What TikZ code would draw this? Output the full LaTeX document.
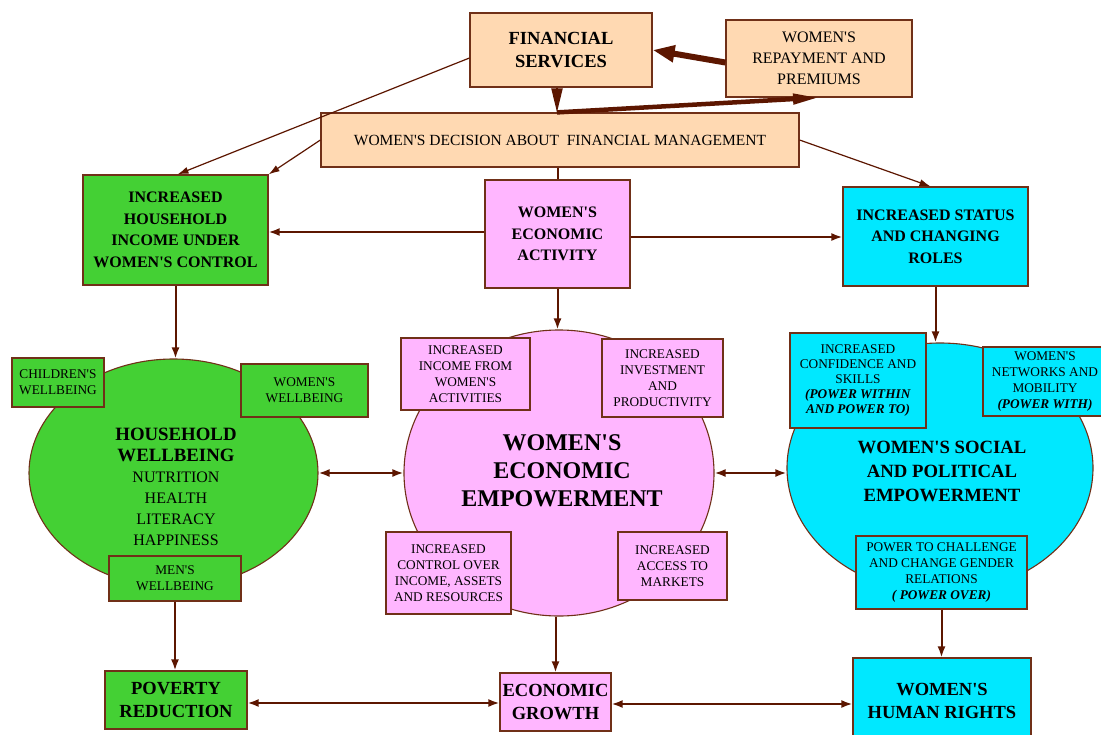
\documentclass[tikz,border=0pt]{standalone}
\usepackage{fontspec}
\setmainfont{Liberation Serif}[Ligatures=TeXOff]
\usetikzlibrary{shapes.geometric,arrows.meta,calc}
\definecolor{grn}{RGB}{68,208,52}
\definecolor{pnk}{RGB}{255,182,255}
\definecolor{cyn}{RGB}{0,232,255}
\definecolor{pch}{RGB}{255,217,178}
\definecolor{brn}{RGB}{92,22,0}
\definecolor{bord}{RGB}{112,48,24}
\newcommand\hwbig{\fontsize{18.8}{22}\selectfont\bfseries}
\newcommand\bi[1]{\textbf{\textit{#1}}}
\begin{document}
\begin{tikzpicture}[x=1pt,y=-1pt,
 bx/.style 2 args={draw=bord, line width=1.2pt, rectangle, inner sep=0pt, align=center, minimum width=#1pt, minimum height=#2pt},
 ell/.style 2 args={draw=bord, line width=1.1pt, ellipse, inner sep=0pt, minimum width=#1pt, minimum height=#2pt},
 hd/.style={font=\fontsize{16}{21.5}\selectfont\bfseries},
 big/.style={font=\fontsize{18.5}{23.5}\selectfont\bfseries},
 sm/.style={font=\fontsize{13.3}{16}\selectfont},
 md/.style={font=\fontsize{16}{21}\selectfont},
 lbl/.style={align=center, inner sep=0pt},
 arr/.style={draw=brn, line width=2pt, -{Latex[length=11pt,width=8pt]}},
 darr/.style={draw=brn, line width=2pt, {Latex[length=11pt,width=8pt]}-{Latex[length=11pt,width=8pt]}},
 tarr/.style={draw=brn, line width=1.2pt, -{Latex[length=11pt,width=7pt]}},
 plain/.style={draw=brn, line width=2pt},
]
\useasboundingbox (0,0) rectangle (1101,734);
\fill[white] (0,0) rectangle (1101,734);
\clip (0,0) rectangle (1101,734);

% top row
\node[bx={182}{74}, fill=pch, big] (fin) at (561,50) {FINANCIAL\\SERVICES};
\node[bx={186}{77}, fill=pch, md] (rep) at (819,58.5) {WOMEN'S\\REPAYMENT AND\\PREMIUMS};
\node[bx={478}{54}, fill=pch, font=\fontsize{15.5}{19}\selectfont] (dec) at (560,140) {WOMEN'S DECISION ABOUT\ \ FINANCIAL MANAGEMENT};

% second row
\node[bx={185}{110}, fill=grn, hd] (hinc) at (175.5,230) {INCREASED\\HOUSEHOLD\\INCOME UNDER\\WOMEN'S CONTROL};
\node[bx={145}{108}, fill=pnk, hd] (act) at (557.5,234) {WOMEN'S\\ECONOMIC\\ACTIVITY};
\node[bx={185}{99}, fill=cyn, hd] (stat) at (935.5,236.5) {INCREASED STATUS\\AND CHANGING\\ROLES};

% ellipses
\node[ell={289}{228}, fill=grn] (hw) at (173.5,473) {};
\node[ell={310}{286}, fill=pnk] (ee) at (559,473) {};
\node[ell={306}{250}, fill=cyn] (sp) at (940,468) {};

\node[lbl, md] (hwt) at (176,487) {{\hwbig HOUSEHOLD}\\{\hwbig WELLBEING}\\NUTRITION\\HEALTH\\LITERACY\\HAPPINESS};
\node[lbl, font=\fontsize{24}{28}\selectfont\bfseries] (eet) at (562,471) {WOMEN'S\\ECONOMIC\\EMPOWERMENT};
\node[lbl, font=\fontsize{18.7}{24}\selectfont\bfseries] (spt) at (942,471) {WOMEN'S SOCIAL\\AND POLITICAL\\EMPOWERMENT};

% household boxes
\node[bx={92}{49}, fill=grn, sm] (cw) at (58,382.5) {CHILDREN'S\\WELLBEING};
\node[bx={127}{53}, fill=grn, sm] (ww) at (304.5,390.5) {WOMEN'S\\WELLBEING};
\node[bx={132}{45}, fill=grn, sm] (mw) at (175,578.5) {MEN'S\\WELLBEING};

% economic boxes
\node[bx={129}{72}, fill=pnk, sm] (iinc) at (465.5,374) {INCREASED\\INCOME FROM\\WOMEN'S\\ACTIVITIES};
\node[bx={121}{78}, fill=pnk, sm] (iinv) at (662.5,378) {INCREASED\\INVESTMENT\\AND\\PRODUCTIVITY};
\node[bx={125}{82}, fill=pnk, sm] (ictl) at (448.5,573) {INCREASED\\CONTROL OVER\\INCOME, ASSETS\\AND RESOURCES};
\node[bx={109}{68}, fill=pnk, sm] (iacc) at (672.5,566) {INCREASED\\ACCESS TO\\MARKETS};

% social boxes
\node[bx={136}{95}, fill=cyn, font=\fontsize{13.3}{15.2}\selectfont] (icon) at (858,380.5) {INCREASED\\CONFIDENCE AND\\SKILLS\\\bi{(POWER WITHIN}\\\bi{AND POWER TO)}};
\node[bx={124}{69}, fill=cyn, sm] (inet) at (1045,381.5) {WOMEN'S\\NETWORKS AND\\MOBILITY\\\bi{(POWER WITH)}};
\node[bx={171}{73}, fill=cyn, sm] (ptc) at (941.5,572.5) {POWER TO CHALLENGE\\AND CHANGE GENDER\\RELATIONS\\\bi{( POWER OVER)}};

% bottom row
\node[bx={142}{58}, fill=grn, big] (pov) at (176,700) {POVERTY\\REDUCTION};
\node[bx={111}{58}, fill=pnk, big] (eg) at (555.5,702) {ECONOMIC\\GROWTH};
\node[bx={178}{86}, fill=cyn, big] (hr) at (942,701) {WOMEN'S\\HUMAN RIGHTS};

% connectors
\draw[draw=brn, line width=6pt, -{Triangle[length=22pt,width=16pt]}] ($(rep.west)+(0,4)$) -- (fin.east);
\draw[draw=brn, line width=2pt, -{Triangle[length=24pt,width=11pt]}] ($(fin.south)+(-4,0)$) -- ($(dec.north)+(-3,0)$);
\draw[draw=brn, line width=4.5pt, -{Triangle[length=26pt,width=10pt]}] ($(dec.north)+(-3,0)$) -- (rep.south);
\draw[tarr] ($(fin.west)+(0,8)$) -- ($(hinc.north)+(2,0)$);
\draw[tarr] (dec.west) -- (hinc.north east);
\draw[tarr] (dec.east) -- ($(stat.north)+(-5,0)$);
\draw[plain] (act.north |- dec.south) -- (act.north);
\draw[arr] ([yshift=2pt]act.west) -- ([yshift=2pt]act.west -| hinc.east);
\draw[arr] ([yshift=-3pt]act.east) -- ([yshift=-3pt]act.east -| stat.west);
\draw[arr] (act.south) -- (act.south |- ee.north);
\draw[arr] (hinc.south) -- (hinc.south |- hw.north);
\draw[arr] (stat.south) -- (stat.south |- sp.north);
\draw[darr] (hw.east) -- (ee.west);
\draw[darr] (ee.east) -- (ee.east -| sp.west);
\draw[arr] (mw.south) -- (mw.south |- pov.north);
\draw[arr] (eg.north |- ee.south) -- (eg.north);
\draw[darr] ([yshift=-3pt]pov.east) -- ([yshift=-3pt]pov.east -| eg.west);
\draw[darr] ([yshift=-2pt]eg.east) -- ([yshift=-2pt]eg.east -| hr.west);
\draw[arr] (ptc.south) -- (ptc.south |- hr.north);
\end{tikzpicture}
\end{document}
